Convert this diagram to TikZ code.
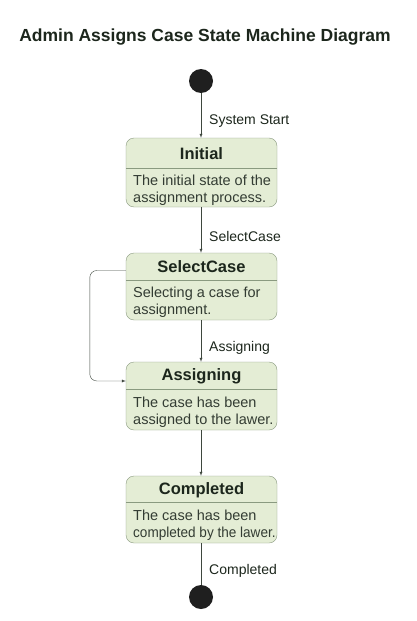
\documentclass[tikz,border=0pt]{standalone}
\usepackage{fontspec}
\setmainfont{Liberation Sans}
\usepackage{xcolor}
\usepackage{graphicx}
\usetikzlibrary{positioning, arrows}

\definecolor{boxfill}{HTML}{E4EDD5}
\definecolor{boxline}{HTML}{8A9A80}
\definecolor{darktext}{HTML}{1C261C}

\tikzset{
  statebox/.style={rectangle, rounded corners=8pt, draw=boxline, fill=boxfill, minimum width=151pt, inner sep=0pt},
  statename/.style={font=\fontsize{16.5}{19}\selectfont\bfseries, text=darktext, inner sep=0pt},
  statebody/.style={font=\fontsize{14.5}{16.5}\selectfont, text=darktext!90, align=left, anchor=west, inner sep=0pt},
  divider/.style={draw=boxline},
  pseudo/.style={circle, fill=black!88, minimum size=24pt, inner sep=0pt},
  trans/.style={-latex, draw=darktext!85},
  translabel/.style={font=\fontsize{14}{16}\selectfont, text=darktext, anchor=west, inner sep=0pt}
}

\begin{document}
\begin{tikzpicture}[x=1pt, y=-1pt]
            \useasboundingbox (0,0) rectangle (417,621);
            \node[font=\fontsize{17.5}{20}\selectfont\bfseries, text=darktext] (title) at (205,37) {Admin Assigns Case State Machine Diagram};

            \node[pseudo] (start) at (201,81) {};

            \node[statebox, minimum height=69pt] (init) at (201.5,172.5) {};
            \node[statename] (initname) at (201.5,154) {Initial};
            \node[statebody] (initbody) at (133,190) {The initial state of the\\assignment process.};
            \draw[divider] (126,168) -- (277,168);

            \node[statebox, minimum height=67pt] (sel) at (201.5,286.5) {};
            \node[statename] (selname) at (201.5,267) {SelectCase};
            \node[statebody] (selbody) at (133,302) {Selecting a case for\\assignment.};
            \draw[divider] (126,280) -- (277,280);

            \node[statebox, minimum height=68pt] (asg) at (201.5,396) {};
            \node[statename] (asgname) at (201.5,376) {Assigning};
            \node[statebody] (asgbody) at (133,412) {The case has been\\assigned to the lawer.};
            \draw[divider] (126,389) -- (277,389);

            \node[statebox, minimum height=67pt] (comp) at (201.5,509.5) {};
            \node[statename] (compname) at (201.5,490) {Completed};
            \node[statebody] (compbody) at (133,525) {The case has been\\\scalebox{0.935}[1]{completed by the lawer.}};
            \draw[divider] (126,502) -- (277,502);

            \node[pseudo] (stop) at (201,597) {};

            \draw[trans] (start) -- (start |- init.north);
            \node[translabel] (l1) at (209,121) {System Start};
            \draw[trans] (init.south -| start) -- (sel.north -| start);
            \node[translabel] (l2) at (209,236) {SelectCase};
            \draw[trans] (sel.south -| start) -- (asg.north -| start);
            \node[translabel] (l3) at (209,348) {Assigning};
            \draw[trans, rounded corners=7pt] ([yshift=16pt]sel.west) -- ++(-36,0) |- ([yshift=15pt]asg.west);
            \draw[trans] (asg.south -| start) -- (comp.north -| start);
            \draw[trans, -] (comp.south -| start) -- (stop);
            \node[translabel] (l4) at (209,571) {Completed};
        \end{tikzpicture}
\end{document}
